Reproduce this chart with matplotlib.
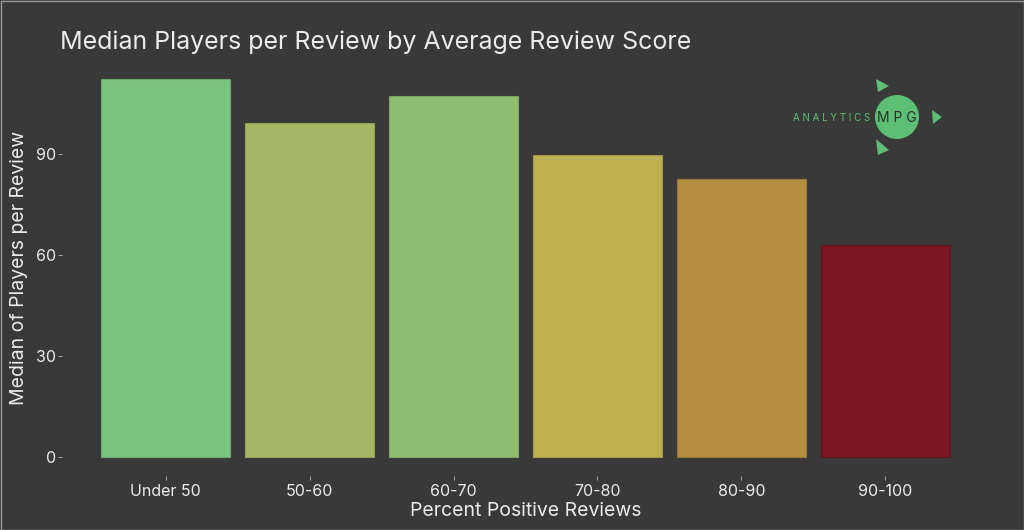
import matplotlib.pyplot as plt
from matplotlib.patches import Circle, Polygon, Rectangle

# ============================================================
# Data
# ============================================================
categories = ["Under 50", "50-60", "60-70", "70-80", "80-90", "90-100"]
median_players = [112.3, 99.2, 107.2, 89.7, 82.6, 63.0]
bar_colors = ["#7bc47f", "#a6b865", "#8fbe72", "#bfb052", "#b58d41", "#7a1622"]
edge_colors = ["#6aa86c", "#8f9f56", "#7ba562", "#a49745", "#9b7937", "#63111b"]

BG = "#393939"
TXT = "#ececec"
LOGO = "#5cbf73"

plt.rcParams["font.family"] = ["Inter", "DejaVu Sans"]

fig = plt.figure(figsize=(10.24, 5.30), dpi=100, facecolor=BG)
ax = fig.add_axes([62 / 1024, 1 - 476 / 530, (989 - 62) / 1024, (476 - 60) / 530])
ax.set_facecolor(BG)

x = range(len(categories))
ax.bar(x, median_players, width=0.9, color=bar_colors, edgecolor=edge_colors, linewidth=0.8)

ax.set_xlim(-0.72, len(categories) - 1 + 0.72)
ax.set_ylim(-5.6, 117.9)
ax.set_yticks([0, 30, 60, 90])
ax.set_xticks(list(x))
ax.set_xticklabels(categories)
for s in ax.spines.values():
    s.set_visible(False)
ax.tick_params(axis="both", colors="#bdbdbd", labelcolor=TXT, labelsize=11.5, length=3, width=0.6)
ax.tick_params(axis="x", pad=3)
ax.tick_params(axis="y", pad=1)

ax.set_xlabel("Percent Positive Reviews", color=TXT, fontsize=14, labelpad=2)
ax.set_ylabel("Median of Players per Review", color=TXT, fontsize=14, labelpad=6)

fig.text(60 / 1024, 1 - 42 / 530, "Median Players per Review by Average Review Score",
         color=TXT, fontsize=18, va="center", ha="left")

# ============================================================
# Logo + border (pixel coordinates overlay)
# ============================================================
over = fig.add_axes([0, 0, 1, 1], facecolor="none")
over.set_xlim(0, 1024)
over.set_ylim(530, 0)
over.axis("off")
over.add_patch(Circle((897, 117), 22, facecolor=LOGO, edgecolor="none"))
for tri in [[(876, 79), (889, 86), (878, 92)],
            [(876, 139), (889, 150), (878, 155)],
            [(932, 110), (942, 117), (933, 124)]]:
    over.add_patch(Polygon(tri, closed=True, facecolor=LOGO, edgecolor="none"))
over.text(897, 118, "M P G", color="#2e2e2e", fontsize=10, ha="center", va="center")
over.text(870, 118, "A N A L Y T I C S", color=LOGO, fontsize=7, ha="right", va="center")

over.add_patch(Rectangle((0.5, 0.5), 1023, 529, fill=False, edgecolor="#9a9a9a", linewidth=1))

fig.savefig("out.png", dpi=100, facecolor=BG)
